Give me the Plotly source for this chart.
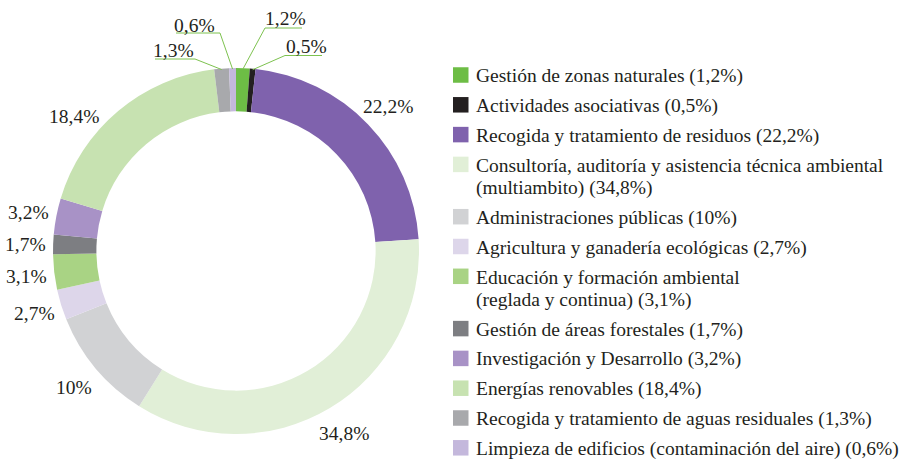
import math
import plotly.graph_objects as go

# ---------------- data ----------------
categories = [
    "Gestión de zonas naturales",
    "Actividades asociativas",
    "Recogida y tratamiento de residuos",
    "Consultoría, auditoría y asistencia técnica ambiental\n(multiambito)",
    "Administraciones públicas",
    "Agricultura y ganadería ecológicas",
    "Educación y formación ambiental\n(reglada y continua)",
    "Gestión de áreas forestales",
    "Investigación y Desarrollo",
    "Energías renovables",
    "Recogida y tratamiento de aguas residuales",
    "Limpieza de edificios (contaminación del aire)",
]
values = [1.2, 0.5, 22.2, 34.8, 10.0, 2.7, 3.1, 1.7, 3.2, 18.4, 1.3, 0.6]
colors = ["#6dbd45", "#231f20", "#7f62ad", "#e1efd7", "#d1d2d4", "#ddd6ea",
          "#a9d384", "#7d7e82", "#a892c6", "#c7e2b1", "#a8a9ac", "#c4b8dc"]

# ---------------- layout constants ----------------
W, H = 904, 462
CX, CY, R = 236, 251, 183          # donut centre / outer radius (px)
HOLE = 0.763
FONT = "Liberation Serif, Times New Roman, serif"
FS = 19.5
TXT = "#231f20"
LEADER = "#7dc24f"


def px(x):
    return x / W


def py(y):
    return 1 - y / H


def fmt(v):
    s = ("%.1f" % v).rstrip("0").rstrip(".")
    return s.replace(".", ",") + "%"


fig = go.Figure(go.Pie(
    labels=[c.replace("\n", " ") for c in categories],
    values=values,
    marker=dict(colors=colors, line=dict(width=0)),
    hole=HOLE,
    sort=False,
    direction="clockwise",
    rotation=0,
    textinfo="none",
    hoverinfo="label+percent",
    showlegend=False,
    domain=dict(x=[px(CX - R), px(CX + R)], y=[py(CY + R), py(CY - R)]),
))

annotations = []
shapes = []

total = sum(values)
cum = 0
mids = []
for v in values:
    mids.append((cum + v / 2) / total * 2 * math.pi)
    cum += v

# labels placed around the ring at each slice's mid angle
LABEL_R = 211
angle_nudge = {9: -10}            # degrees
leader_labels = {                 # small top slices: text centre, elbow point, underline end
    0: ((285.5, 18), (265, 28), (302, 28)),
    1: ((306, 46), (285, 55.5), (322, 55.5)),
    10: ((173, 50), (195, 59), (155, 59)),
    11: ((194, 24), (220, 33), (176, 33)),
}
for i, v in enumerate(values):
    if i in leader_labels:
        (tx, ty), (ex, ey), (ux, uy) = leader_labels[i]
        sx = CX + (R - 1) * math.sin(mids[i])
        sy = CY - (R - 1) * math.cos(mids[i])
        shapes.append(dict(type="line", xref="paper", yref="paper",
                           x0=px(sx), y0=py(sy), x1=px(ex), y1=py(ey),
                           line=dict(color=LEADER, width=1)))
        shapes.append(dict(type="line", xref="paper", yref="paper",
                           x0=px(ex), y0=py(ey), x1=px(ux), y1=py(uy),
                           line=dict(color=LEADER, width=1)))
    else:
        a = mids[i] + math.radians(angle_nudge.get(i, 0))
        tx = CX + LABEL_R * math.sin(a)
        ty = CY - LABEL_R * math.cos(a)
    annotations.append(dict(x=px(tx), y=py(ty + 1), xref="paper", yref="paper",
                            text=fmt(v), showarrow=False, xanchor="center",
                            yanchor="middle",
                            font=dict(family=FONT, size=FS, color=TXT)))

# manual legend
LX, LSQ, LTX = 453, 15.5, 474
ROW, LINE2 = 29.8, 22.5
y = 75
for i, (c, v) in enumerate(zip(categories, values)):
    lines = c.split("\n")
    lines[-1] = lines[-1] + " (" + fmt(v) + ")"
    shapes.append(dict(type="rect", xref="paper", yref="paper",
                       x0=px(LX), x1=px(LX + LSQ),
                       y0=py(y - LSQ / 2), y1=py(y + LSQ / 2),
                       fillcolor=colors[i], line=dict(width=0)))
    for k, ln in enumerate(lines):
        annotations.append(dict(x=px(LTX), y=py(y + 1 + k * LINE2),
                                xref="paper", yref="paper", text=ln,
                                showarrow=False, xanchor="left",
                                yanchor="middle",
                                font=dict(family=FONT, size=FS, color=TXT)))
    y += ROW + (len(lines) - 1) * LINE2

fig.update_layout(
    width=W, height=H,
    margin=dict(l=0, r=0, t=0, b=0),
    paper_bgcolor="white",
    plot_bgcolor="white",
    annotations=annotations,
    shapes=shapes,
)

fig.write_html(
    "out.html",
    config={"displayModeBar": False},
    post_script="document.body.style.margin='0';document.body.style.overflow='hidden';",
)
